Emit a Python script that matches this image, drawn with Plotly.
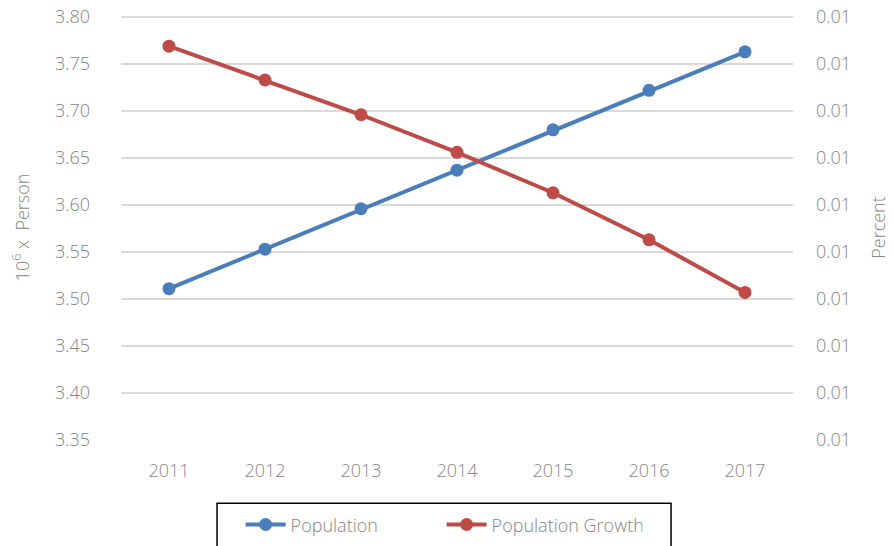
import plotly.graph_objects as go

years = ["2011", "2012", "2013", "2014", "2015", "2016", "2017"]
population = [3.511, 3.553, 3.596, 3.637, 3.680, 3.722, 3.763]
growth = [0.01319, 0.01283, 0.01246, 0.01206, 0.01163, 0.01113, 0.01057]

left_ticks = [3.35, 3.40, 3.45, 3.50, 3.55, 3.60, 3.65, 3.70, 3.75, 3.80]
right_ticks = [0.0090, 0.0095, 0.0100, 0.0105, 0.0110, 0.0115, 0.0120, 0.0125, 0.0130, 0.0135]

BLUE = "#4a7ebb"
RED = "#be4b48"
GRAY = "#858585"
FONT = "Open Sans"
FS = 18

# a little headroom above the top tick so its gridline/label are not clipped
PAD = 2 / 423
y_lo, y_hi = 3.35, 3.80
r_lo, r_hi = 0.0090, 0.0135

fig = go.Figure()
fig.add_trace(go.Scatter(
    x=years, y=population, name="Population", mode="lines+markers",
    line=dict(color=BLUE, width=4), marker=dict(color=BLUE, size=13),
))
fig.add_trace(go.Scatter(
    x=years, y=growth, name="Population Growth", mode="lines+markers",
    line=dict(color=RED, width=4), marker=dict(color=RED, size=13),
    yaxis="y2",
))

tf = dict(family=FONT, size=FS, color=GRAY, weight=300)

fig.update_layout(
    width=886, height=538,
    margin=dict(l=113, r=101, t=7, b=106, autoexpand=False),
    paper_bgcolor="white", plot_bgcolor="white",
    font=tf,
    xaxis=dict(
        type="category", range=[-0.5, 6.5], showgrid=False, showline=False,
        ticks="", tickfont=tf, ticklabelstandoff=18,
        automargin=False,
    ),
    yaxis=dict(
        range=[y_lo, y_hi + (y_hi - y_lo) * PAD], tickvals=left_ticks, tickformat=".2f",
        showgrid=True, gridcolor="#d9d9d9", gridwidth=1.5, zeroline=False,
        showline=False, ticks="", tickfont=tf, ticklabeloverflow="allow",
        ticklabelstandoff=30, automargin=False,
        title=dict(text="10<sup>6</sup> x  Person", font=tf, standoff=23),
    ),
    yaxis2=dict(
        overlaying="y", side="right", range=[r_lo, r_hi + (r_hi - r_lo) * PAD],
        tickvals=right_ticks, tickformat=".2f", showgrid=False, zeroline=False,
        showline=False, ticks="", tickfont=tf, ticklabeloverflow="allow",
        ticklabelstandoff=22, automargin=False,
        title=dict(text="Percent", font=tf, standoff=22),
    ),
    legend=dict(
        orientation="h", x=0.178, xanchor="left", y=-0.156, yanchor="top",
        borderwidth=0, bgcolor="rgba(0,0,0,0)",
        font=dict(family=FONT, size=FS, color=GRAY, weight=300),
        entrywidth=146, entrywidthmode="pixels", itemwidth=40,
    ),
    shapes=[dict(
        type="rect", xref="paper", yref="paper",
        x0=0.1429, x1=0.8185, y0=-0.1489, y1=-0.2600,
        line=dict(color="black", width=1.5), fillcolor="rgba(0,0,0,0)",
        layer="below",
    )],
    showlegend=True,
)

fig.write_html("out.html")
